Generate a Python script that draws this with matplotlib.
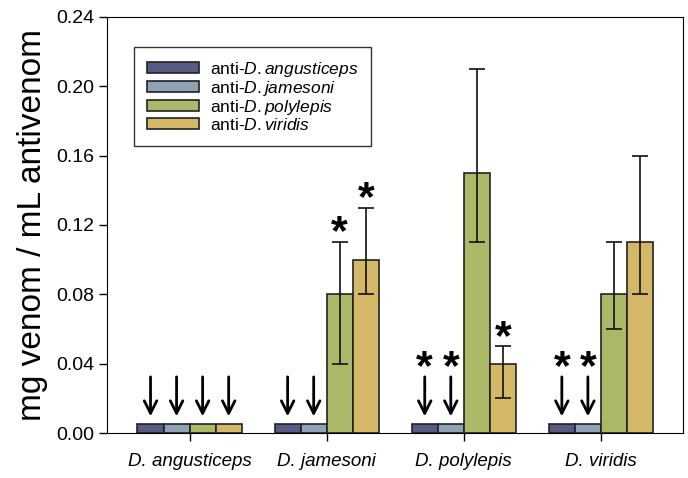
import numpy as np
import matplotlib.pyplot as plt

plt.rcParams['font.family'] = ['Liberation Sans', 'DejaVu Sans']
plt.rcParams['mathtext.fontset'] = 'custom'
plt.rcParams['mathtext.rm'] = 'Liberation Sans'
plt.rcParams['mathtext.it'] = 'Liberation Sans:italic'

# venom species (x groups)
venoms = ['D. angusticeps', 'D. jamesoni', 'D. polylepis', 'D. viridis']
antivenoms = ['anti-$\\it{D.angusticeps}$', 'anti-$\\it{D.jamesoni}$',
              'anti-$\\it{D.polylepis}$', 'anti-$\\it{D.viridis}$']
colors = ['#575b83', '#8fa2b6', '#abb867', '#d5b867']

# values per antivenom (rows) and venom (columns)
values = np.array([
    [0.005, 0.005, 0.005, 0.005],   # anti-D.angusticeps
    [0.005, 0.005, 0.005, 0.005],   # anti-D.jamesoni
    [0.005, 0.08, 0.15, 0.08],      # anti-D.polylepis
    [0.005, 0.10, 0.04, 0.11],      # anti-D.viridis
])
err_low = np.array([
    [0, 0, 0, 0],
    [0, 0, 0, 0],
    [0, 0.04, 0.04, 0.02],
    [0, 0.02, 0.02, 0.03],
])
err_high = np.array([
    [0, 0, 0, 0],
    [0, 0, 0, 0],
    [0, 0.03, 0.06, 0.03],
    [0, 0.03, 0.01, 0.05],
])
# 1 = not neutralized (arrow)
arrows = np.array([
    [1, 1, 1, 1],
    [1, 1, 1, 1],
    [1, 0, 0, 0],
    [1, 0, 0, 0],
])
# 1 = significant (asterisk)
stars = np.array([
    [0, 0, 1, 1],
    [0, 0, 1, 1],
    [0, 1, 0, 0],
    [0, 1, 1, 0],
])

fig, ax = plt.subplots(figsize=(6.88, 4.78), dpi=100)
fig.subplots_adjust(left=0.156, right=0.993, top=0.965, bottom=0.094)

x = np.arange(len(venoms))
w = 0.19
for i in range(len(antivenoms)):
    pos = x + (i - 1.5) * w
    ax.bar(pos, values[i], w, color=colors[i], edgecolor='#222222',
           linewidth=1.2, label=antivenoms[i], zorder=2)
    has_err = (err_low[i] + err_high[i]) > 0
    ax.errorbar(pos[has_err], values[i][has_err],
                yerr=[err_low[i][has_err], err_high[i][has_err]],
                fmt='none', ecolor='#111111', elinewidth=1.2,
                capsize=6, capthick=1.2, zorder=3)
    for j in range(len(venoms)):
        if arrows[i, j]:
            ax.annotate('', xy=(pos[j], 0.008), xytext=(pos[j], 0.034),
                        arrowprops=dict(arrowstyle='->,head_length=0.9,head_width=0.45',
                                        lw=2, color='black'))
            if stars[i, j]:
                ax.text(pos[j], 0.0375, '*', ha='center', va='center',
                        fontsize=31, fontweight='bold')
        elif stars[i, j]:
            ax.text(pos[j], values[i, j] + err_high[i, j] + 0.005, '*',
                    ha='center', va='center', fontsize=31, fontweight='bold')

ax.set_xlim(-0.6, 3.6)
ax.set_ylim(0, 0.24)
ax.set_yticks(np.arange(0, 0.241, 0.04))
ax.set_yticklabels(['%.2f' % v for v in np.arange(0, 0.241, 0.04)], fontsize=14)
ax.set_xticks(x)
ax.set_xticklabels(venoms, fontsize=13.5, style='italic')
ax.tick_params(axis='both', direction='out', length=6, width=1)
ax.tick_params(axis='x', pad=8)
ax.set_ylabel('mg venom / mL antivenom', fontsize=24, labelpad=6)

ax.legend(loc='upper left', bbox_to_anchor=(0.047, 0.928), borderaxespad=0,
          fontsize=12.5, frameon=True, fancybox=False, edgecolor='black',
          handlelength=3.0, handleheight=0.65, borderpad=0.75,
          labelspacing=0.0, handletextpad=0.6)

plt.savefig('out.png', dpi=100)
